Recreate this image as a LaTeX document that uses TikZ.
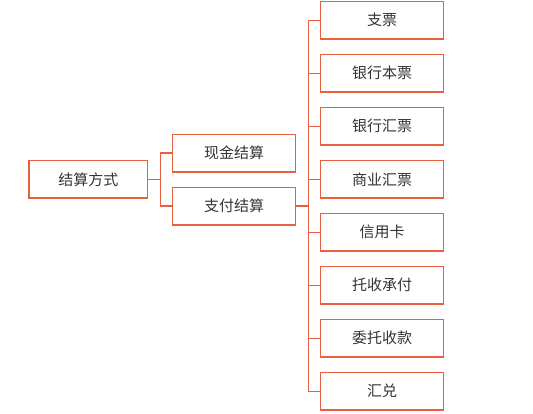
\documentclass[tikz,border=0pt]{standalone}
\usepackage{fontspec}
\newfontfamily\cjk{Noto Sans CJK SC}[Scale=1]
\definecolor{boxred}{HTML}{E9603E}
\definecolor{txtgray}{HTML}{333333}
\tikzset{
  item/.style={draw=boxred, line width=1.5pt, minimum width=123pt, minimum height=37.5pt,
    inner sep=0pt, text=txtgray, font=\cjk\fontsize{15}{17}\selectfont},
  link/.style={draw=boxred, line width=1.5pt}
}
\begin{document}
\begin{tikzpicture}[x=1pt,y=-1pt]
% canvas
    \useasboundingbox (0,0) rectangle (533,414);

% root and second level
    \node[item, minimum width=118.5pt] (fangshi) at (88.3,179.5) {结算方式};
    \node[item] (xianjin) at (234,153.2) {现金结算};
    \node[item] (zhifu) at (234,206.2) {支付结算};

    \draw[link] (fangshi.east) -- ++(12,0) |- (xianjin.west);
    \draw[link] (fangshi.east) -- ++(12,0) |- (zhifu.west);

% payment instruments
    \foreach \name [count=\i from 0] in {支票,银行本票,银行汇票,商业汇票,信用卡,托收承付,委托收款,汇兑}{
        \node[item] (way\i) at (382.2,{20.3+53*\i}) {\name};
        \draw[link] (zhifu.east) -- ++(12,0) |- (way\i.west);
    }
\end{tikzpicture}
\end{document}
